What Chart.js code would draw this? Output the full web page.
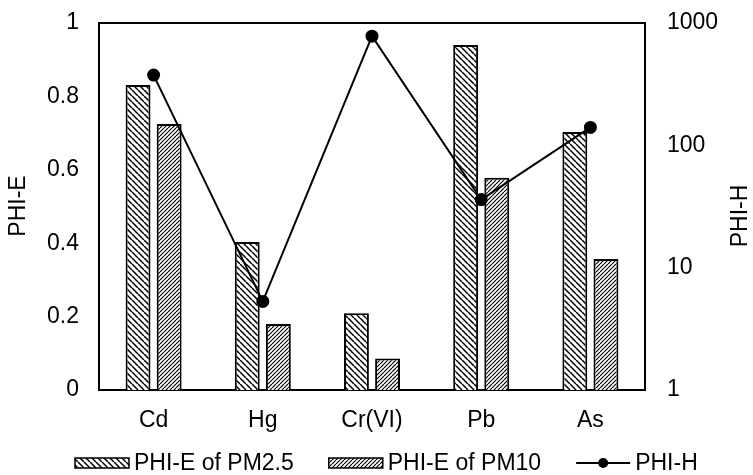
<!DOCTYPE html>
<html>
<head>
<meta charset="utf-8">
<script src="https://cdn.jsdelivr.net/npm/chart.js@4"></script>
<style>
body{margin:0;background:#fff;}
</style>
</head>
<body>
<canvas id="phiChart" width="753" height="475"></canvas>
<script>
var metals = ['Cd', 'Hg', 'Cr(VI)', 'Pb', 'As'];
var phiE_pm25 = [0.831, 0.403, 0.209, 0.94, 0.703];
var phiE_pm10 = [0.725, 0.18, 0.086, 0.578, 0.357];
var phiH = [375, 5.3, 780, 36, 140];
var leftTicks = [0, 0.2, 0.4, 0.6, 0.8, 1];
var rightTicks = [1, 10, 100, 1000];

var fontFamily = '"Liberation Sans", Arial, sans-serif';
Chart.defaults.font.family = fontFamily;
Chart.defaults.color = '#000';

// hatch fill for the bars, dir 1 = "\\\" and -1 = "///"
function makeHatch(size, dir, lw){
    var c = document.createElement('canvas');
    c.width = size;
    c.height = size;
    var g = c.getContext('2d');
    g.fillStyle = '#fff';
    g.fillRect(0, 0, size, size);
    g.strokeStyle = '#000';
    g.lineWidth = lw;
    g.beginPath();
    for(var k = -1; k <= 1; k++){
        if(dir > 0){
            g.moveTo(k*size, 0);
            g.lineTo(k*size + size, size);
        } else {
            g.moveTo(k*size, size);
            g.lineTo(k*size + size, 0);
        }
    }
    g.stroke();
    return g.createPattern(c, 'repeat');
}

var ctx = document.getElementById('phiChart').getContext('2d');
var hatch25 = makeHatch(6, 1, 1.5);
var hatch10 = makeHatch(4, -1, 1.2);

var frameAndTitles = {
    id: 'frameAndTitles',
    afterDraw: function(chart){
        var c = chart.ctx;
        var a = chart.chartArea;
        c.save();
        c.strokeStyle = '#000';
        c.lineWidth = 2;
        c.beginPath();
        c.moveTo(a.left, a.top);
        c.lineTo(a.right, a.top);
        c.stroke();

        c.fillStyle = '#000';
        c.font = '23px ' + fontFamily;
        c.textAlign = 'center';
        c.textBaseline = 'middle';
        c.save();
        c.translate(19, 206);
        c.rotate(-Math.PI/2);
        c.fillText('PHI-E', 0, 0);
        c.restore();
        c.save();
        c.translate(741, 216);
        c.rotate(-Math.PI/2);
        c.fillText('PHI-H', 0, 0);
        c.restore();

        // legend row
        var y = 463;
        var x = 75;
        c.textAlign = 'left';
        var items = [
            {text: 'PHI-E of PM2.5', fill: hatch25},
            {text: 'PHI-E of PM10', fill: hatch10},
            {text: 'PHI-H', line: true}
        ];
        items.forEach(function(it){
            if(it.line){
                c.lineWidth = 2;
                c.beginPath();
                c.moveTo(x, y);
                c.lineTo(x + 54, y);
                c.stroke();
                c.beginPath();
                c.arc(x + 27, y, 5, 0, Math.PI*2);
                c.fill();
            } else {
                c.fillStyle = it.fill;
                c.fillRect(x, y - 5, 54, 10);
                c.fillStyle = '#000';
                c.lineWidth = 1.5;
                c.strokeRect(x, y - 5, 54, 10);
            }
            x += 59;
            c.fillText(it.text, x, y + 1);
            x += c.measureText(it.text).width + 35;
        });
        c.restore();
    }
};

var phiChart = new Chart(ctx, {
    type: 'bar',
    data: {
        labels: metals,
        datasets: [
            {
                label: 'PHI-E of PM2.5',
                data: phiE_pm25,
                backgroundColor: hatch25,
                borderColor: '#000',
                borderWidth: 2,
                yAxisID: 'y',
                order: 1
            },{
                label: 'PHI-E of PM10',
                data: phiE_pm10,
                backgroundColor: hatch10,
                borderColor: '#000',
                borderWidth: 2,
                yAxisID: 'y',
                order: 1
            },{
                type: 'line',
                label: 'PHI-H',
                data: phiH,
                borderColor: '#000',
                backgroundColor: '#000',
                borderWidth: 2,
                pointRadius: 5.5,
                pointBackgroundColor: '#000',
                tension: 0,
                yAxisID: 'y1',
                order: 0
            }
        ]
    },
    options: {
        responsive: false,
        animation: false,
        devicePixelRatio: 1,
        categoryPercentage: 0.57,
        barPercentage: 0.8,
        layout: {padding: {top: 23, left: 0, right: 0, bottom: 0}},
        plugins: {
            legend: {display: false},
            tooltip: {enabled: false}
        },
        scales: {
            x: {
                grid: {display: false, drawTicks: false},
                border: {color: '#000', width: 2},
                ticks: {font: {size: 23}, padding: 17, color: '#000'},
                afterFit: function(s){ s.height = 85; }
            },
            y: {
                position: 'left',
                min: 0,
                max: 1,
                grid: {display: false, drawTicks: false},
                border: {color: '#000', width: 2},
                afterBuildTicks: function(s){
                    s.ticks = leftTicks.map(function(v){ return {value: v}; });
                },
                ticks: {
                    font: {size: 23},
                    padding: 20,
                    color: '#000',
                    callback: function(v){ return String(Math.round(v*10)/10); }
                },
                afterFit: function(s){ s.width = 99; s.paddingTop = 0; s.paddingBottom = 0; }
            },
            y1: {
                type: 'logarithmic',
                position: 'right',
                min: 1,
                max: 1000,
                grid: {display: false, drawTicks: false},
                border: {color: '#000', width: 2},
                afterBuildTicks: function(s){
                    s.ticks = rightTicks.map(function(v){ return {value: v}; });
                },
                ticks: {
                    font: {size: 23},
                    padding: 22,
                    color: '#000',
                    callback: function(v){ return String(v); }
                },
                afterFit: function(s){ s.width = 108; s.paddingTop = 0; s.paddingBottom = 0; }
            }
        }
    },
    plugins: [frameAndTitles]
});
</script>
</body>
</html>
